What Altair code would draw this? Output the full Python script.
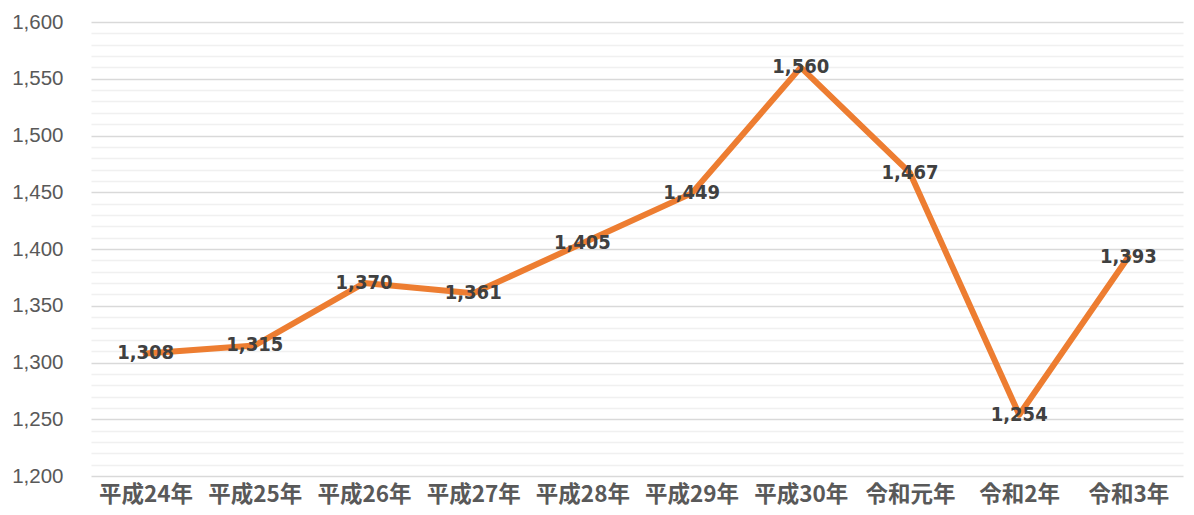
import altair as alt
import pandas as pd

categories = ["平成24年", "平成25年", "平成26年", "平成27年", "平成28年",
              "平成29年", "平成30年", "令和元年", "令和2年", "令和3年"]
values = [1308, 1315, 1370, 1361, 1405, 1449, 1560, 1467, 1254, 1393]
grid_values = list(range(1200, 1601, 10))

df = pd.DataFrame({"year": categories, "value": values})

x = alt.X("year:N", sort=categories, title=None,
          scale=alt.Scale(paddingInner=0, paddingOuter=0.5),
          axis=alt.Axis(labelAngle=0, labelFont="Noto Sans CJK JP", labelFontWeight="bold",
                        labelFontSize=22.5, labelColor="#595959", labelPadding=7,
                        ticks=False, domain=False, grid=False))
y = alt.Y("value:Q", title=None,
          scale=alt.Scale(domain=[1200, 1600], nice=False, zero=False),
          axis=alt.Axis(values=grid_values, labelOverlap=False,
                        labelExpr="datum.value % 50 === 0 ? format(datum.value, ',') : ''",
                        labelFont="Liberation Sans", labelFontSize=20.5, labelColor="#595959",
                        labelPadding=28, ticks=False, domain=False,
                        gridColor={"condition": {"test": "datum.value % 50 === 0", "value": "#d9d9d9"},
                                   "value": "#f0f0f0"},
                        gridWidth=1.3))

line = alt.Chart(df).mark_line(color="#ED7D31", strokeWidth=6, strokeCap="round", strokeJoin="round").encode(x=x, y=y)
labels = alt.Chart(df).mark_text(font="DejaVu Sans Condensed", fontWeight="bold", fontSize=20,
                                 color="#404040", baseline="middle", align="center").encode(
    x=x, y=y, text=alt.Text("value:Q", format=","))

chart = alt.layer(line, labels).properties(
    width=1092, height=454,
    background="white",
    autosize=alt.AutoSizeParams(type="none"),
    padding={"left": 83, "top": 14, "right": 3, "bottom": 30},
).configure_view(strokeWidth=0, stroke="transparent")

chart.save("out.html", embed_options={"renderer": "svg", "actions": False})
